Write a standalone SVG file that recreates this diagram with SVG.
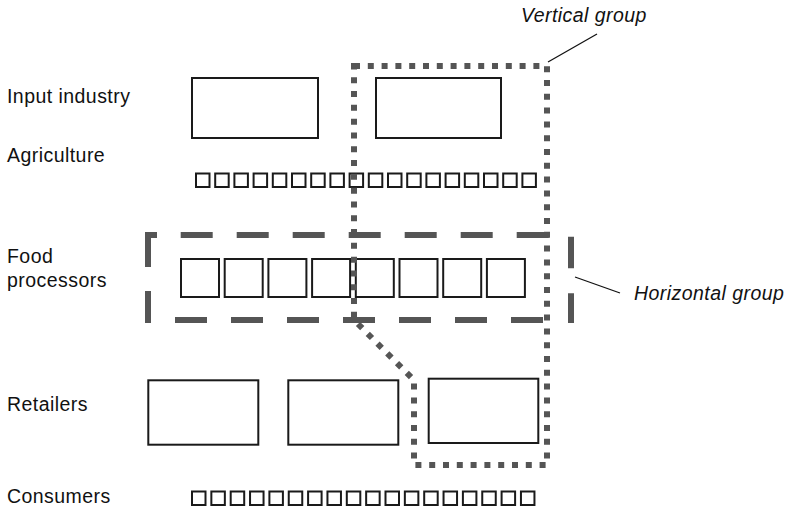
<svg xmlns="http://www.w3.org/2000/svg" width="796" height="512" viewBox="0 0 796 512">
<style>
  .lbl { font-family: "Liberation Sans", Arial, sans-serif; font-size: 19.5px; letter-spacing: 0.45px; fill: #111; }
  .it { font-style: italic; }
  .box { fill: #fff; stroke: #1a1a1a; stroke-width: 2; }
  .sq { fill: #fff; stroke: #1a1a1a; stroke-width: 2; }
  .hgrp { fill: none; stroke: #555; stroke-width: 6; }
  .vgrp { fill: none; stroke: #555; stroke-width: 6; stroke-dasharray: 6 7.8; }
  .leader { fill: none; stroke: #111; stroke-width: 1.2; }
</style>
<defs>
  <g id="aggRow">
    <rect class="sq" x="0" y="0" width="13.5" height="13.5"/>
  </g>
</defs>

<g id="labels">
  <text class="lbl" x="7" y="103">Input industry</text>
  <text class="lbl" x="7" y="162">Agriculture</text>
  <text class="lbl" x="7" y="263">Food</text>
  <text class="lbl" x="7" y="287">processors</text>
  <text class="lbl" x="7" y="411">Retailers</text>
  <text class="lbl" x="7" y="503">Consumers</text>
</g>

<g id="input-industry-1"><rect class="box" x="192" y="78" width="126" height="60"/></g>
<g id="input-industry-2"><rect class="box" x="376" y="78" width="125" height="60"/></g>

<g id="agriculture">
  <use href="#aggRow" x="196" y="173.5"/>
  <use href="#aggRow" x="215.2" y="173.5"/>
  <use href="#aggRow" x="234.4" y="173.5"/>
  <use href="#aggRow" x="253.6" y="173.5"/>
  <use href="#aggRow" x="272.8" y="173.5"/>
  <use href="#aggRow" x="292" y="173.5"/>
  <use href="#aggRow" x="311.2" y="173.5"/>
  <use href="#aggRow" x="330.4" y="173.5"/>
  <use href="#aggRow" x="349.6" y="173.5"/>
  <use href="#aggRow" x="368.8" y="173.5"/>
  <use href="#aggRow" x="388" y="173.5"/>
  <use href="#aggRow" x="407.2" y="173.5"/>
  <use href="#aggRow" x="426.4" y="173.5"/>
  <use href="#aggRow" x="445.6" y="173.5"/>
  <use href="#aggRow" x="464.8" y="173.5"/>
  <use href="#aggRow" x="484" y="173.5"/>
  <use href="#aggRow" x="503.2" y="173.5"/>
  <use href="#aggRow" x="522.4" y="173.5"/>
</g>

<g id="food-processors">
  <rect class="box" x="181" y="259" width="38" height="38"/>
  <rect class="box" x="224.7" y="259" width="38" height="38"/>
  <rect class="box" x="268.4" y="259" width="38" height="38"/>
  <rect class="box" x="312.1" y="259" width="38" height="38"/>
  <rect class="box" x="355.8" y="259" width="38" height="38"/>
  <rect class="box" x="399.5" y="259" width="38" height="38"/>
  <rect class="box" x="443.2" y="259" width="38" height="38"/>
  <rect class="box" x="486.9" y="259" width="38" height="38"/>
</g>

<g id="retailer-1"><rect class="box" x="148.3" y="380.3" width="110" height="64.4"/></g>
<g id="retailer-2"><rect class="box" x="288.3" y="380.3" width="110" height="64.4"/></g>
<g id="retailer-3"><rect class="box" x="428.7" y="378.7" width="109.6" height="64.3"/></g>

<g id="consumers">
  <use href="#aggRow" x="192" y="491.5"/>
  <use href="#aggRow" x="211.35" y="491.5"/>
  <use href="#aggRow" x="230.7" y="491.5"/>
  <use href="#aggRow" x="250.05" y="491.5"/>
  <use href="#aggRow" x="269.4" y="491.5"/>
  <use href="#aggRow" x="288.75" y="491.5"/>
  <use href="#aggRow" x="308.1" y="491.5"/>
  <use href="#aggRow" x="327.45" y="491.5"/>
  <use href="#aggRow" x="346.8" y="491.5"/>
  <use href="#aggRow" x="366.15" y="491.5"/>
  <use href="#aggRow" x="385.5" y="491.5"/>
  <use href="#aggRow" x="404.85" y="491.5"/>
  <use href="#aggRow" x="424.2" y="491.5"/>
  <use href="#aggRow" x="443.55" y="491.5"/>
  <use href="#aggRow" x="462.9" y="491.5"/>
  <use href="#aggRow" x="482.25" y="491.5"/>
  <use href="#aggRow" x="501.6" y="491.5"/>
  <use href="#aggRow" x="520.95" y="491.5"/>
</g>

<g id="horizontal-group">
  <path class="hgrp" d="M148,235 H157 M180.7,235 H212.7 M236.7,235 H268.7 M292.7,235 H324.7 M348.7,235 H380.7 M404.7,235 H436.7 M460.7,235 H492.7 M516.7,235 H548.7
    M571,236.7 V268.3 M571,293.3 V323
    M175,320 H207 M231,320 H263 M287,320 H319 M343,320 H375 M399,320 H431 M455,320 H487 M511,320 H543
    M148,232 V267 M148,291 V323"/>
</g>

<g id="vertical-group">
  <path class="vgrp" d="M354,66 H547 V465 H414 V380 L354,320 Z"/>
</g>

<g id="connectors">
  <line class="leader" x1="597" y1="34" x2="548" y2="62"/>
  <line class="leader" x1="575" y1="277" x2="620" y2="293"/>
</g>

<g id="annotations">
  <text class="lbl it" x="521" y="22">Vertical group</text>
  <text class="lbl it" x="634" y="300">Horizontal group</text>
</g>
</svg>
